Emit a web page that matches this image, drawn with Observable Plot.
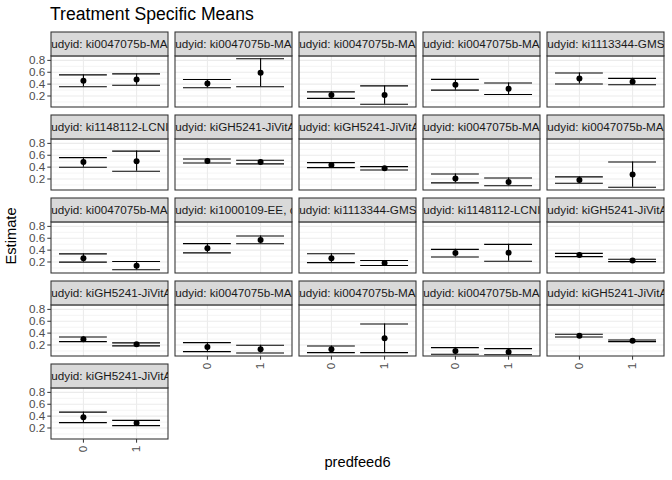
<!DOCTYPE html>
<html>
<head>
<meta charset="utf-8">
<script src="https://cdn.jsdelivr.net/npm/d3@7"></script>
<script src="https://cdn.jsdelivr.net/npm/@observablehq/plot@0.6"></script>
<style>
  body { margin: 0; background: #ffffff; }
  #chart { width: 672px; height: 480px; }
</style>
</head>
<body>
<div id="chart"></div>
<script>
// ---- Data ----
const studyid = [
  "ki0047075b-MAL-ED", "ki0047075b-MAL-ED", "ki0047075b-MAL-ED", "ki0047075b-MAL-ED", "ki1113344-GMS-Nepal",
  "ki1148112-LCNI-5", "kiGH5241-JiVitA-3", "kiGH5241-JiVitA-4", "ki0047075b-MAL-ED", "ki0047075b-MAL-ED",
  "ki0047075b-MAL-ED", "ki1000109-EE", "ki1113344-GMS-Nepal", "ki1148112-LCNI-5", "kiGH5241-JiVitA-3",
  "kiGH5241-JiVitA-4", "ki0047075b-MAL-ED", "ki0047075b-MAL-ED", "ki0047075b-MAL-ED", "kiGH5241-JiVitA-3",
  "kiGH5241-JiVitA-4"
];
const country = [
  "BANGLADESH", "INDIA", "NEPAL", "PERU", "NEPAL",
  "MALAWI", "BANGLADESH", "BANGLADESH", "INDIA", "NEPAL",
  "PERU", "PAKISTAN", "NEPAL", "MALAWI", "BANGLADESH",
  "BANGLADESH", "INDIA", "NEPAL", "PERU", "BANGLADESH",
  "BANGLADESH"
];
const predfeed6 = [0, 1];

// Estimates and 95% CI for predfeed6 = 0
const est0 = [0.455, 0.410, 0.215, 0.390, 0.495, 0.485, 0.503, 0.435, 0.210, 0.183, 0.265, 0.432, 0.263, 0.352, 0.318, 0.296, 0.167, 0.127, 0.099, 0.357, 0.383];
const lo0  = [0.355, 0.340, 0.160, 0.298, 0.402, 0.398, 0.470, 0.392, 0.135, 0.128, 0.197, 0.354, 0.190, 0.285, 0.290, 0.256, 0.088, 0.071, 0.045, 0.335, 0.290];
const hi0  = [0.555, 0.478, 0.270, 0.480, 0.587, 0.560, 0.536, 0.475, 0.284, 0.235, 0.336, 0.510, 0.340, 0.413, 0.346, 0.335, 0.240, 0.184, 0.155, 0.380, 0.467];
// Estimates and 95% CI for predfeed6 = 1
const est1 = [0.478, 0.590, 0.215, 0.322, 0.440, 0.500, 0.487, 0.380, 0.150, 0.275, 0.135, 0.570, 0.183, 0.357, 0.224, 0.212, 0.127, 0.312, 0.083, 0.273, 0.283];
const lo1  = [0.382, 0.355, 0.060, 0.225, 0.390, 0.330, 0.455, 0.352, 0.085, 0.060, 0.068, 0.508, 0.140, 0.212, 0.206, 0.185, 0.066, 0.071, 0.035, 0.256, 0.240];
const hi1  = [0.572, 0.828, 0.370, 0.420, 0.497, 0.670, 0.515, 0.408, 0.217, 0.487, 0.207, 0.637, 0.224, 0.497, 0.245, 0.235, 0.195, 0.553, 0.139, 0.284, 0.328];

const yMajor = [0.2, 0.4, 0.6, 0.8];
const yMinor = [0.1, 0.3, 0.5, 0.7];

// ---- Scale settings ----
const X0 = -0.6, X1 = 1.6;        // discrete axis expansion
const YB = 0.006, YP = 0.867;     // panel y range
const YT = 1.27;                  // top of strip area
const NCOL = 5;

const panels = studyid.map((s, i) => ({
  i, col: i % NCOL, row: Math.floor(i / NCOL),
  label: `studyid: ${s}, country: ${country[i]}`
}));
const records = panels.flatMap(p => [
  {...p, pred: predfeed6[0], est: est0[p.i], lo: lo0[p.i], hi: hi0[p.i]},
  {...p, pred: predfeed6[1], est: est1[p.i], lo: lo1[p.i], hi: hi1[p.i]}
]);
const gridMajor = panels.flatMap(p => yMajor.map(v => ({...p, v})));
const gridMinor = panels.flatMap(p => yMinor.map(v => ({...p, v})));
const gridX = panels.flatMap(p => predfeed6.map(v => ({...p, v})));

const F = {fx: "col", fy: "row"};
const ink = "#000000";
const lw = 1.1;

const chart = Plot.plot({
  width: 672,
  height: 480,
  marginLeft: 50,
  marginRight: 7,
  marginTop: 32,
  marginBottom: 40,
  style: {fontFamily: "'Liberation Sans', Arial, Helvetica, sans-serif", fontSize: "11.7px", background: "#ffffff", color: "#333333"},
  fx: {domain: d3.range(5), paddingInner: 0.06, paddingOuter: 0, axis: null, label: null},
  fy: {domain: d3.range(5), paddingInner: 0.096, paddingOuter: 0, axis: null, label: null},
  x: {domain: [X0, X1], label: null},
  y: {domain: [YB, YT], label: null},
  marks: [
    // grid
    Plot.ruleY(gridMinor, {...F, y: "v", x1: () => X0, x2: () => X1, stroke: "#EBEBEB", strokeWidth: 0.55}),
    Plot.ruleY(gridMajor, {...F, y: "v", x1: () => X0, x2: () => X1, stroke: "#EBEBEB", strokeWidth: 1.07}),
    Plot.ruleX(gridX, {...F, x: "v", y1: () => YB, y2: () => YP, stroke: "#EBEBEB", strokeWidth: 1.07}),
    // error bars
    Plot.ruleX(records, {...F, x: "pred", y1: "lo", y2: "hi", stroke: ink, strokeWidth: lw}),
    Plot.ruleY(records, {...F, y: "lo", x1: d => d.pred - 0.45, x2: d => d.pred + 0.45, stroke: ink, strokeWidth: lw}),
    Plot.ruleY(records, {...F, y: "hi", x1: d => d.pred - 0.45, x2: d => d.pred + 0.45, stroke: ink, strokeWidth: lw}),
    Plot.dot(records, {...F, x: "pred", y: "est", r: 3, fill: ink, stroke: null}),
    // panel border
    Plot.rect(panels, {...F, x1: () => X0, x2: () => X1, y1: () => YB, y2: () => YP, fill: "none", stroke: "#333333", strokeWidth: 1.07}),
    // strips
    Plot.rect(panels, {...F, x1: () => X0, x2: () => X1, y1: () => YP, y2: () => YT, fill: "#D9D9D9", stroke: "#333333", strokeWidth: 1.07}),
    Plot.text(panels, {...F, x: () => X0, y: () => (YP + YT) / 2, text: "label", textAnchor: "start", dx: -9.3,
      fontSize: 11.7, fill: "#1A1A1A", clip: true}),
    // axes
    Plot.axisY({ticks: yMajor, tickSize: 3.7, tickPadding: 2.6, fontSize: 11.7, stroke: "#333333", fill: "#4D4D4D", label: null, facetAnchor: "left"}),
    Plot.axisX({ticks: predfeed6, tickFormat: d => String(d), tickRotate: -90, tickSize: 3.7, tickPadding: 2.6, fontSize: 11.7,
      stroke: "#333333", fill: "#4D4D4D", label: null, facetAnchor: "bottom-empty"})
  ]
});

const svg = d3.select(chart);
svg.append("text")
  .attr("x", 50).attr("y", 20)
  .attr("text-anchor", "start")
  .attr("font-size", 17.6).attr("fill", "#000000")
  .text("Treatment Specific Means");
svg.append("text")
  .attr("transform", "translate(16,236) rotate(-90)")
  .attr("text-anchor", "middle")
  .attr("font-size", 14.7).attr("fill", "#000000")
  .text("Estimate");
svg.append("text")
  .attr("x", 357.5).attr("y", 467)
  .attr("text-anchor", "middle")
  .attr("font-size", 14.7).attr("fill", "#000000")
  .text("predfeed6");

document.getElementById("chart").appendChild(chart);
</script>
</body>
</html>
